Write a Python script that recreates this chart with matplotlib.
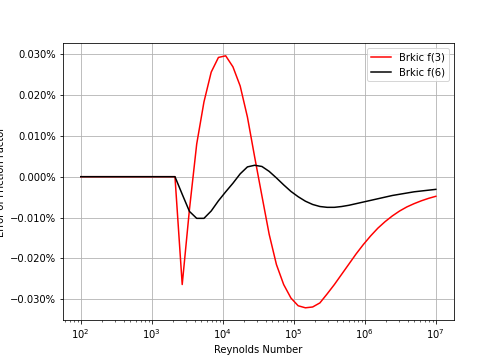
import numpy as np
import matplotlib
matplotlib.use("Agg")
import matplotlib.pyplot as plt
from matplotlib.ticker import PercentFormatter

# Reynolds numbers: 50 log-spaced points from 1e2 to 1e7
reynolds = np.logspace(2, 7, 50)

# error in percent
err_f3 = [0.0] * 14 + [
    -0.0264, -0.0080, 0.0080, 0.0183, 0.0256, 0.0292, 0.0296, 0.0269,
    0.0222, 0.0146, 0.0048, -0.0047, -0.0141, -0.0215, -0.0264, -0.0297,
    -0.0316, -0.0321, -0.0319, -0.0309, -0.0287, -0.0264, -0.0239, -0.0214,
    -0.0189, -0.0166, -0.0145, -0.0126, -0.0110, -0.0096, -0.0084, -0.0074,
    -0.0066, -0.0059, -0.0053, -0.0048,
]
err_f6 = [0.0] * 14 + [
    -0.0043, -0.0085, -0.0102, -0.0102, -0.0084, -0.0059, -0.0037, -0.0016,
    0.0007, 0.0024, 0.0028, 0.0025, 0.0013, -0.0003, -0.0020, -0.0036,
    -0.0049, -0.0060, -0.0068, -0.0073, -0.0075, -0.0075, -0.0073, -0.0070,
    -0.0066, -0.0062, -0.0058, -0.0054, -0.0050, -0.0046, -0.0043, -0.0040,
    -0.0037, -0.0035, -0.0033, -0.0031,
]

fig, ax = plt.subplots(figsize=(7, 5), dpi=72)
ax.plot(reynolds, err_f3, color="red", label="Brkic f(3)")
ax.plot(reynolds, err_f6, color="black", label="Brkic f(6)")
ax.set_xscale("log")
ax.yaxis.set_major_formatter(PercentFormatter(xmax=100, decimals=3))
ax.set_xlabel("Reynolds Number")
ax.set_ylabel("Error of Friction Factor")
ax.grid(True)
ax.legend(loc="upper right")

fig.savefig("out.png")
